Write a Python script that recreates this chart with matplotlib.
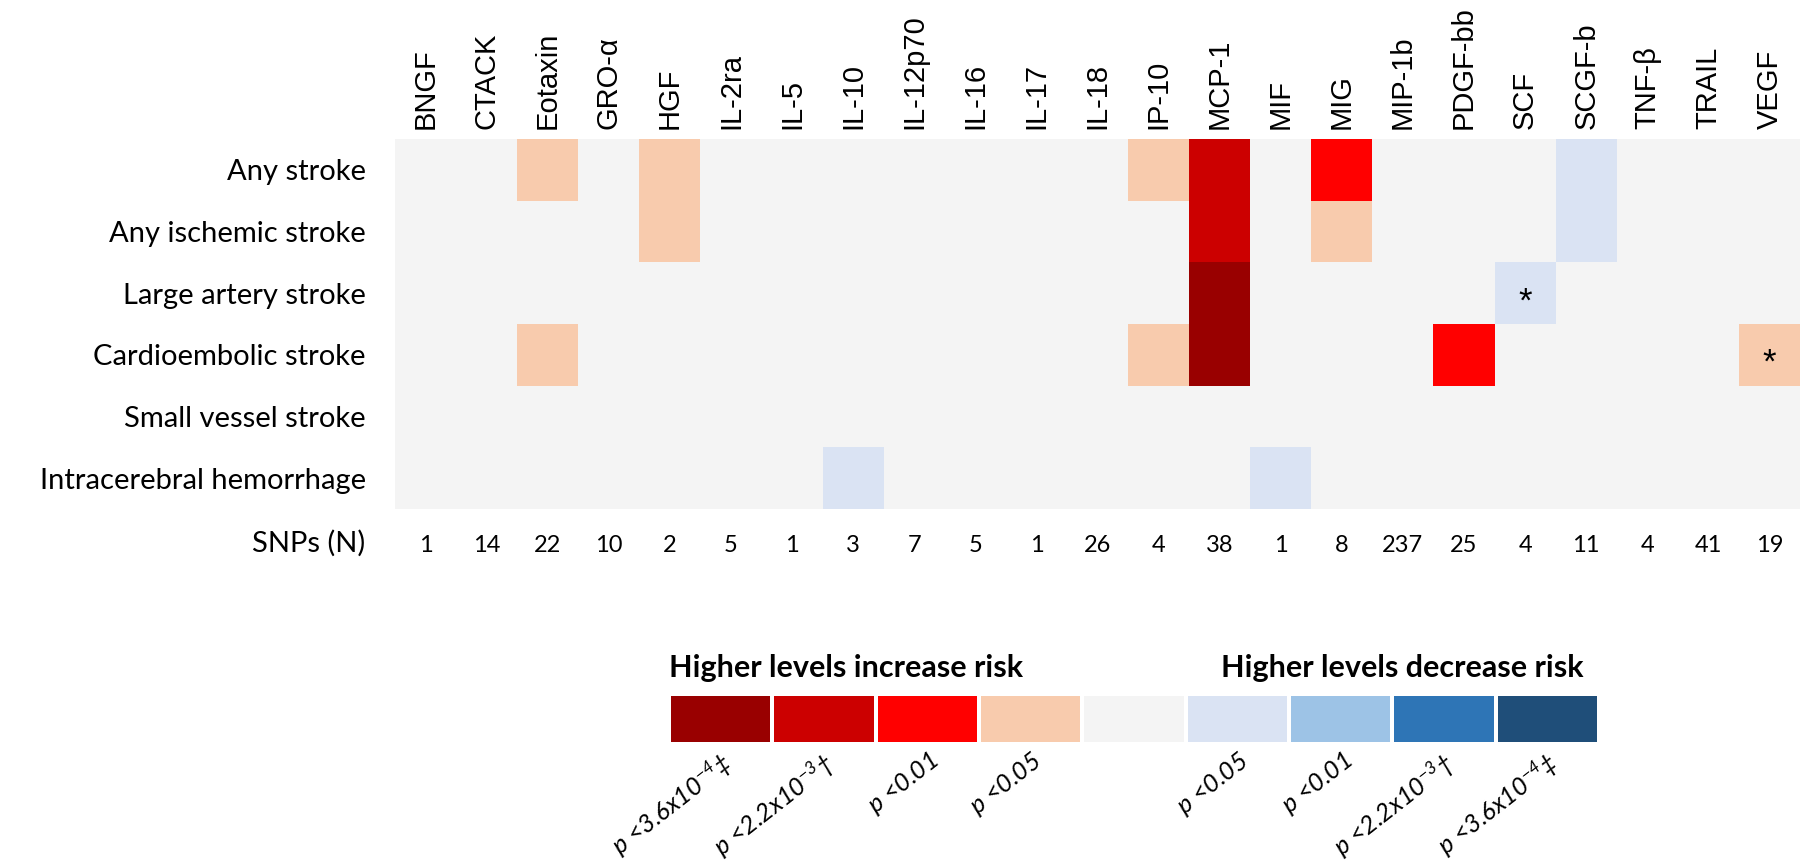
import matplotlib
matplotlib.use("Agg")
import matplotlib.pyplot as plt
import numpy as np
from matplotlib.colors import ListedColormap, BoundaryNorm

# cytokines (columns) and outcomes (rows)
cytokines = ["BNGF", "CTACK", "Eotaxin", "GRO-α", "HGF", "IL-2ra", "IL-5", "IL-10",
             "IL-12p70", "IL-16", "IL-17", "IL-18", "IP-10", "MCP-1", "MIF", "MIG",
             "MIP-1b", "PDGF-bb", "SCF", "SCGF-b", "TNF-β", "TRAIL", "VEGF"]
outcomes = ["Any stroke", "Any ischemic stroke", "Large artery stroke",
            "Cardioembolic stroke", "Small vessel stroke", "Intracerebral hemorrhage"]
snps = [1, 14, 22, 10, 2, 5, 1, 3, 7, 5, 1, 26, 4, 38, 1, 8, 237, 25, 4, 11, 4, 41, 19]

# significance level: + = higher levels increase risk, - = decrease risk
# 1: p<0.05, 2: p<0.01, 3: p<2.2e-3, 4: p<3.6e-4
any_stroke    = [0, 0, 1, 0, 1, 0, 0, 0, 0, 0, 0, 0, 1, 3, 0, 2, 0, 0, 0, -1, 0, 0, 0]
any_ischemic  = [0, 0, 0, 0, 1, 0, 0, 0, 0, 0, 0, 0, 0, 3, 0, 1, 0, 0, 0, -1, 0, 0, 0]
large_artery  = [0, 0, 0, 0, 0, 0, 0, 0, 0, 0, 0, 0, 0, 4, 0, 0, 0, 0, -1, 0, 0, 0, 0]
cardioembolic = [0, 0, 1, 0, 0, 0, 0, 0, 0, 0, 0, 0, 1, 4, 0, 0, 0, 2, 0, 0, 0, 0, 1]
small_vessel  = [0] * 23
ich           = [0, 0, 0, 0, 0, 0, 0, -1, 0, 0, 0, 0, 0, 0, -1, 0, 0, 0, 0, 0, 0, 0, 0]
levels = np.array([any_stroke, any_ischemic, large_artery, cardioembolic, small_vessel, ich])

# asterisk marks (row, column)
stars = [(2, 18), (3, 22)]

legend_levels = [4, 3, 2, 1, 0, -1, -2, -3, -4]
legend_labels = ["$p$ <3.6x10$^{-4}$‡", "$p$ <2.2x10$^{-3}$†", "$p$ <0.01", "$p$ <0.05", "",
                 "$p$ <0.05", "$p$ <0.01", "$p$ <2.2x10$^{-3}$†", "$p$ <3.6x10$^{-4}$‡"]

colors = ["#1F4E79", "#2E75B6", "#9DC3E6", "#DAE3F3", "#F4F4F4",
          "#F8CBAD", "#FF0000", "#CC0000", "#990000"]
cmap = ListedColormap(colors)
norm = BoundaryNorm(np.arange(-4.5, 5.5, 1), cmap.N)

plt.rcParams['mathtext.fontset'] = 'custom'
plt.rcParams['mathtext.it'] = 'Lato:italic'
plt.rcParams['mathtext.rm'] = 'Lato:italic'

W, H = 1800, 865
fig = plt.figure(figsize=(18, 8.65), dpi=100)

# main heatmap
x0, x1, y0, y1 = 395, 1800, 139, 509
ax = fig.add_axes([x0 / W, 1 - y1 / H, (x1 - x0) / W, (y1 - y0) / H])
ax.pcolormesh(levels, cmap=cmap, norm=norm)
ax.set_xlim(0, len(cytokines))
ax.set_ylim(len(outcomes), 0)
for s in ax.spines.values():
    s.set_visible(False)
ax.xaxis.tick_top()
ax.set_xticks(np.arange(len(cytokines)) + 0.5)
ax.set_xticklabels(cytokines, rotation=90, fontsize=21, family="Liberation Sans")
ax.set_yticks(np.arange(len(outcomes)) + 0.5)
ax.set_yticklabels(outcomes, fontsize=21, family="Lato")
ax.tick_params(length=0, pad=21, axis="y")
ax.tick_params(length=0, pad=7, axis="x")

for r, c in stars:
    ax.text(c + 0.5, r + 0.64, "*", ha="center", va="center", fontsize=25,
            family="Liberation Sans")

# SNP counts row
ax.text(-30 / 61.1, 6.55, "SNPs (N)", ha="right", va="center", fontsize=21, family="Lato")
for i, n in enumerate(snps):
    ax.text(i + 0.5, 6.6, str(n), ha="center", va="center", fontsize=17, family="Lato")

# legend bar
lx0, lx1, ly0, ly1 = 669, 1599, 694, 744
lax = fig.add_axes([lx0 / W, 1 - ly1 / H, (lx1 - lx0) / W, (ly1 - ly0) / H])
lax.pcolormesh(np.array([legend_levels]), cmap=cmap, norm=norm, edgecolors="white", linewidth=1.5)
lax.set_xlim(0, 9)
lax.set_ylim(1, 0)
lax.axis("off")
for i, lab in enumerate(legend_labels):
    if lab:
        lax.text(i + 0.66, 1.08, lab, ha="right", va="top", rotation=38,
                 fontsize=18, family="Lato", style="italic")
lax.text(0, -0.25, "Higher levels increase risk", ha="left", va="bottom",
         fontsize=22, family="Lato", weight="bold")
lax.text(8.85, -0.25, "Higher levels decrease risk", ha="right", va="bottom",
         fontsize=22, family="Lato", weight="bold")

fig.savefig("out.png", dpi=100)
